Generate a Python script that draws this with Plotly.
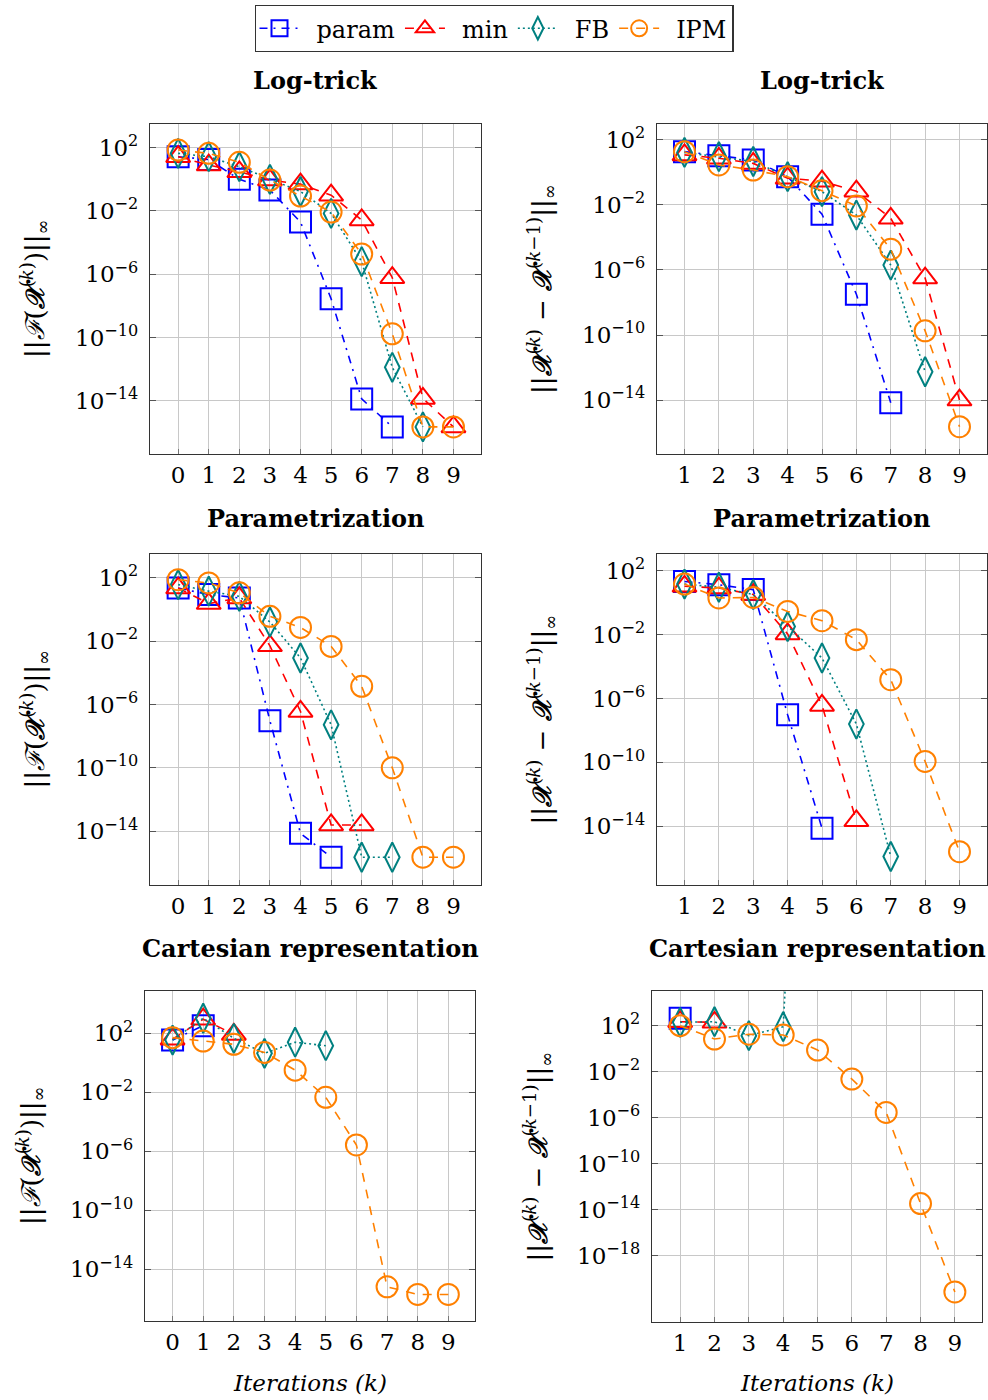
import plotly.graph_objects as go

# ---------------- data ----------------
# iteration indices
k_res = [0, 1, 2, 3, 4, 5, 6, 7, 8, 9]     # residual panels
k_inc = [1, 2, 3, 4, 5, 6, 7, 8, 9]        # increment panels

# Log-trick: residual ||F(X^(k))||_inf
lt_res_param = [27, 18, 1.0, 0.21, 2.0e-3, 2.8e-8, 1.3e-14, 2.2e-16]
lt_res_min = [27, 8.0, 3.0, 0.9, 0.5, 0.1, 2.7e-3, 6.0e-7, 1.4e-14, 2.2e-16]
lt_res_fb = [44, 27, 6.3, 1.0, 0.17, 7.0e-3, 6.3e-6, 1.3e-12, 2.2e-16]
lt_res_ipm = [71, 44, 12, 0.9, 0.087, 8.5e-3, 1.9e-5, 1.7e-10, 2.2e-16, 2.2e-16]

# Log-trick: increment ||X^(k) - X^(k-1)||_inf
lt_inc_param = [19, 10.5, 5.9, 0.55, 2.7e-3, 3.2e-8, 6.9e-15]
lt_inc_min = [12, 7.4, 3.6, 0.44, 0.29, 0.07, 1.5e-3, 3.2e-7, 1.0e-14]
lt_inc_fb = [17, 9.3, 4.7, 0.55, 0.066, 2.4e-3, 2.0e-6, 5.5e-13]
lt_inc_ipm = [19, 2.9, 1.4, 0.55, 0.076, 8.7e-3, 1.9e-5, 1.8e-10, 2.3e-16]

# Parametrization: residual
pa_res_param = [22, 8.5, 5.2, 9.3e-8, 7.4e-15, 2.3e-16]
pa_res_min = [22, 2.3, 5.2, 5.0e-3, 3.6e-7, 2.5e-14, 2.5e-14]
pa_res_fb = [36, 14, 6.6, 0.16, 8.5e-4, 5.2e-8, 2.3e-16, 2.3e-16]
pa_res_ipm = [74, 46, 11, 0.36, 0.072, 4.6e-3, 1.4e-5, 1.0e-10, 2.3e-16, 2.3e-16]

# Parametrization: increment
pa_inc_param = [21, 13, 6.5, 9.5e-8, 7.6e-15]
pa_inc_min = [10.5, 8.1, 3.2, 0.011, 3.7e-7, 2.2e-14]
pa_inc_fb = [14.5, 9.1, 3.2, 0.032, 3.4e-4, 2.5e-8, 1.3e-16]
pa_inc_ipm = [14.5, 1.95, 2.1, 0.28, 0.074, 4.8e-3, 1.5e-5, 1.15e-10, 2.6e-16]

# Cartesian representation: residual
ca_res_param = [35, 330]
ca_res_min = [40, 900, 85]
ca_res_fb = [35, 1050, 46, 4.4, 25, 14.5]
ca_res_ipm = [51, 30, 18, 5.1, 0.32, 4.6e-3, 2.7e-6, 6.6e-16, 2.0e-16, 2.0e-16]

# Cartesian representation: increment (FB diverges after k = 4)
ca_inc_param = [440]
ca_inc_min = [220, 195]
ca_inc_fb = [195, 220, 13.5, 81, 1e60]
ca_inc_ipm = [100, 6.9, 18, 15.5, 0.76, 2.3e-3, 2.9e-6, 3.5e-14, 7.4e-22]

method_names = ["param", "min", "FB", "IPM"]
panel_titles = ["Log-trick", "Parametrization", "Cartesian representation"]
res_ticks = [1e2, 1e-2, 1e-6, 1e-10, 1e-14]
res_ticktext = ["10<sup>2</sup>", "10<sup>−2</sup>", "10<sup>−6</sup>",
                "10<sup>−10</sup>", "10<sup>−14</sup>"]
inc6_ticks = [1e2, 1e-2, 1e-6, 1e-10, 1e-14, 1e-18]
inc6_ticktext = res_ticktext + ["10<sup>−18</sup>"]

# ---------------- styles ----------------
FONT = "DejaVu Serif"
W, H = 988, 1400
styles = {
    "param": dict(color="#0000ff", dash="8px,6px,2px,6px", symbol="square-open", size=21),
    "min": dict(color="#ff0000", dash="9px,8px", symbol="triangle-up-open", size=21),
    "FB": dict(color="#008080", dash="2px,3px", symbol="diamond-tall-open", size=21),
    "IPM": dict(color="#ff8000", dash="9px,8px", symbol="circle-open", size=21),
}

# panel boxes in pixels: (left, top, right, bottom)
boxes = [
    (150, 124, 481, 454), (657, 124, 987, 454),
    (150, 554, 481, 885), (657, 554, 987, 885),
    (145, 991, 475, 1321), (652, 991, 982, 1322),
]
xranges = [(-0.92, 9.9), (0.2, 9.8), (-0.92, 9.9), (0.2, 9.8), (-0.9, 9.87), (0.18, 9.79)]
yranges = [(-17.37, 3.5), (-17.32, 2.98), (-17.39, 3.49), (-17.67, 3.04),
           (-17.5, 4.87), (-23.74, 5.01)]
title_y = [80, 518, 948]

panels = [
    (k_res, [lt_res_param, lt_res_min, lt_res_fb, lt_res_ipm]),
    (k_inc, [lt_inc_param, lt_inc_min, lt_inc_fb, lt_inc_ipm]),
    (k_res, [pa_res_param, pa_res_min, pa_res_fb, pa_res_ipm]),
    (k_inc, [pa_inc_param, pa_inc_min, pa_inc_fb, pa_inc_ipm]),
    (k_res, [ca_res_param, ca_res_min, ca_res_fb, ca_res_ipm]),
    (k_inc, [ca_inc_param, ca_inc_min, ca_inc_fb, ca_inc_ipm]),
]

fig = go.Figure()
layout = {}
for i, ((l, t, r, b), (kk, series)) in enumerate(zip(boxes, panels)):
    n = i + 1
    xa = "x" if n == 1 else f"x{n}"
    ya = "y" if n == 1 else f"y{n}"
    for name, vals in zip(method_names, series):
        st = styles[name]
        fig.add_trace(go.Scatter(
            x=kk[:len(vals)], y=vals, xaxis=xa, yaxis=ya,
            name="\u2002" + name,
            legendgroup=name, showlegend=(i == 0), mode="lines+markers",
            line=dict(color=st["color"], dash=st["dash"], width=1.6),
            marker=dict(symbol=st["symbol"], size=st["size"], color=st["color"],
                        line=dict(width=2, color=st["color"])),
        ))
    tv = inc6_ticks if i == 5 else res_ticks
    tt = inc6_ticktext if i == 5 else res_ticktext
    layout["xaxis" if n == 1 else f"xaxis{n}"] = dict(
        domain=[l / W, r / W], anchor=ya, range=list(xranges[i]),
        tickvals=kk, ticktext=[str(v) for v in kk],
        showgrid=True, gridcolor="#c8c8c8", gridwidth=1, zeroline=False,
        showline=True, linecolor="#333333", linewidth=1.2, mirror=True,
        ticks="inside", ticklen=5, tickcolor="#777777",
        tickfont=dict(family=FONT, size=23, color="black"), ticklabelstandoff=0,
    )
    layout["yaxis" if n == 1 else f"yaxis{n}"] = dict(
        domain=[1 - b / H, 1 - t / H], anchor=xa, type="log", range=list(yranges[i]),
        tickvals=tv, ticktext=tt,
        showgrid=True, gridcolor="#c8c8c8", gridwidth=1, zeroline=False,
        showline=True, linecolor="#333333", linewidth=1.2, mirror="ticks",
        ticks="inside", ticklen=6, tickcolor="#555555",
        tickfont=dict(family=FONT, size=23, color="black"), ticklabelstandoff=6,
    )

annotations = []
# panel titles
for row, title in enumerate(panel_titles):
    for col in range(2):
        l, t, r, b = boxes[row * 2 + col]
        annotations.append(dict(
            text=f"<b>{title}</b>", x=(l + r) / 2 / W, y=1 - title_y[row] / H,
            xref="paper", yref="paper", showarrow=False,
            xanchor="center", yanchor="middle",
            font=dict(family=FONT, size=24, color="black")))

# y-axis titles
res_label = "||<i>ℱ</i>(<b><i>𝒳</i></b><sup>(<i>k</i>)</sup>)||<sub>∞</sub>"
inc_label = ("||<b><i>𝒳</i></b><sup>(<i>k</i>)</sup> − "
             "<b><i>𝒳</i></b><sup>(<i>k</i>−1)</sup>||<sub>∞</sub>")
ytitle_x = [35, 542, 35, 542, 30, 538]
for i, (l, t, r, b) in enumerate(boxes):
    annotations.append(dict(
        text=res_label if i % 2 == 0 else inc_label,
        x=ytitle_x[i] / W, y=1 - (t + b) / 2 / H, xref="paper", yref="paper",
        showarrow=False, textangle=-90, xanchor="center", yanchor="middle",
        font=dict(family=FONT, size=26, color="black")))

# x-axis titles on the bottom row
for i in (4, 5):
    l, t, r, b = boxes[i]
    annotations.append(dict(
        text="<i>Iterations (k)</i>", x=(l + r) / 2 / W, y=1 - 1383 / H,
        xref="paper", yref="paper", showarrow=False,
        xanchor="center", yanchor="middle",
        font=dict(family=FONT, size=23, color="black")))

fig.update_layout(
    width=W, height=H, margin=dict(l=0, r=0, t=0, b=0),
    paper_bgcolor="white", plot_bgcolor="white",
    annotations=annotations,
    legend=dict(orientation="h", x=0.5, xanchor="center", y=1 - 5 / H, yanchor="top",
                bordercolor="#333333", borderwidth=1.2, bgcolor="white",
                font=dict(family=FONT, size=24, color="black"),
                itemwidth=40, tracegroupgap=0),
    **layout,
)

fig.write_html("out.html")
